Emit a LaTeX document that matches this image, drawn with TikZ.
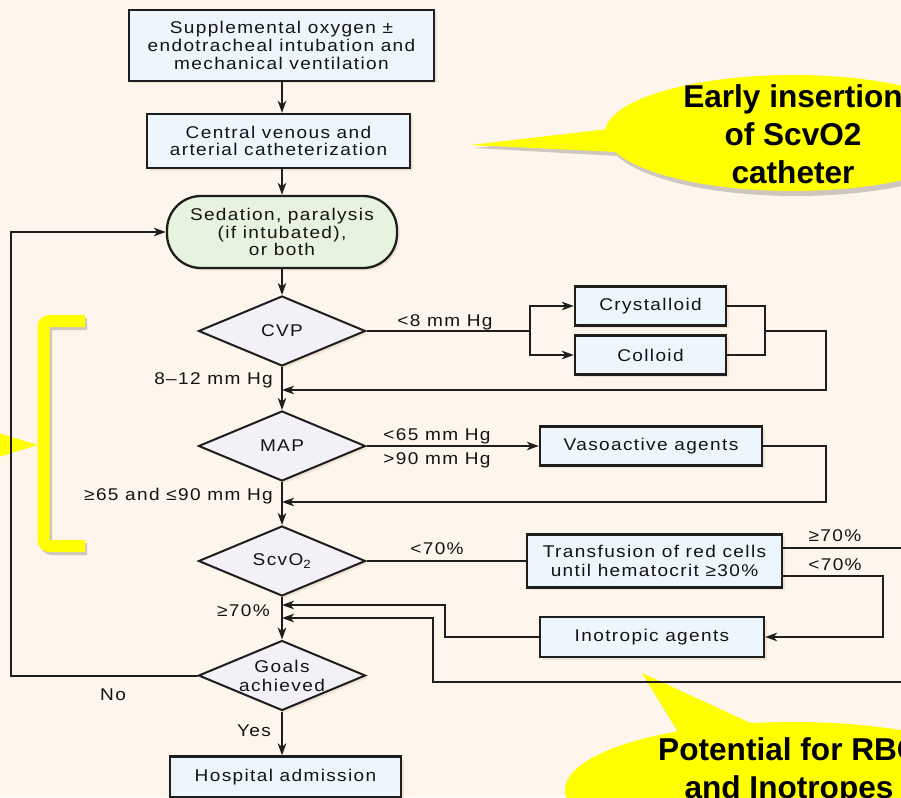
\documentclass[tikz,border=0pt]{standalone}
\usepackage{fontspec}
\newfontfamily\flowfam{Liberation Sans}[LetterSpace=8,FakeStretch=1.12]
\newfontfamily\callfam{Liberation Sans}
\usetikzlibrary{shapes.geometric,arrows.meta,shadows}
\definecolor{bg}{RGB}{254,245,236}
\definecolor{boxfill}{RGB}{237,245,253}
\definecolor{diafill}{RGB}{243,240,247}
\definecolor{ovalfill}{RGB}{232,243,223}
\definecolor{ln}{RGB}{30,30,30}
\definecolor{txt}{RGB}{20,20,20}
\definecolor{shadowc}{RGB}{240,226,212}
\definecolor{yel}{RGB}{255,255,0}
\definecolor{yshadow}{RGB}{205,199,191}
\newcommand\flowfont{\flowfam\fontsize{17}{17.8}\selectfont}
\newcommand\callfont{\callfam\bfseries\fontsize{31.6}{38}\selectfont}
\begin{document}
\begin{tikzpicture}[x=1pt,y=-1pt,
  flow/.style={font=\flowfont, text=txt},
  shad/.style={drop shadow={shadow xshift=2.5pt,shadow yshift=-2.5pt,fill=shadowc,opacity=1}},
  box/.style={flow, rectangle, draw=ln, line width=2.3pt, fill=boxfill, inner sep=0pt, align=center, shad},
  ovalbox/.style={flow, rectangle, rounded corners=34pt, draw=ln, line width=2.3pt, fill=ovalfill, inner sep=0pt, align=center, shad},
  dia/.style={flow, diamond, aspect=2.4, draw=ln, line width=2pt, fill=diafill, inner xsep=-6pt, inner ysep=-5pt, minimum width=167pt, minimum height=70pt, align=center, shad},
  conn/.style={draw=ln, line width=2pt},
  arr/.style={conn, -{Stealth[length=12pt,width=8.5pt,inset=3.5pt]}},
  lab/.style={flow, inner sep=0pt},
  calltext/.style={font=\callfont, text=black, align=center, inner sep=0pt}]
\useasboundingbox (0,0) rectangle (901,797);
\clip (0,0) rectangle (901,797);
\fill[bg] (0,0) rectangle (901,797);

% ---- yellow overlays (shadows first) ----
\fill[yshadow] (796,138) ellipse [x radius=188, y radius=58];
\fill[yshadow] (612,134) -- (474,148) -- (618,156) -- cycle;
\fill[yel] (793,133) ellipse [x radius=188, y radius=58];
\fill[yel] (608,129) -- (470,145) -- (616,152) -- cycle;

\fill[yshadow] (796,795) ellipse [x radius=228, y radius=68];
\fill[yshadow] (645,678) -- (760,731) -- (683,740) -- cycle;
\fill[yel] (793,790) ellipse [x radius=228, y radius=68];
\fill[yel] (642,673) -- (757,726) -- (680,735) -- cycle;

\fill[yel] (-5,432) -- (38,445) -- (-5,458) -- cycle;
\draw[yshadow, line width=12pt, rounded corners=6pt] (87,324) -- (46,324) -- (46,549) -- (87,549);
\draw[yel, line width=12pt, rounded corners=6pt] (85,321) -- (43.5,321) -- (43.5,546) -- (85,546);

\node[calltext] (c1) at (793,134) {Early insertion\\of ScvO2\\catheter};
\node[calltext] (c2) at (789,771) {Potential for RBC\\and Inotropes};

% ---- flowchart nodes ----
\node[box, minimum width=305pt, minimum height=71pt] (b1) at (281.5,45.5)
  {Supplemental oxygen \textpm\\endotracheal intubation and\\mechanical ventilation};
\node[box, minimum width=263pt, minimum height=54pt] (b2) at (278.5,141)
  {Central venous and\\arterial catheterization};
\node[ovalbox, minimum width=230pt, minimum height=72pt] (oval) at (282,232)
  {Sedation, paralysis\\(if intubated),\\or both};
\node[dia] (cvp) at (282,331) {CVP};
\node[dia] (mapd) at (282,446) {MAP};
\node[dia] (scv) at (282,561) {ScvO\textsubscript{2}};
\node[dia, font=\flowfam\fontsize{17}{19}\selectfont] (goals) at (282,675.5) {Goals\\achieved};
\node[box, minimum width=151pt, minimum height=39pt] (cry) at (650.5,306) {Crystalloid};
\node[box, minimum width=151pt, minimum height=39pt] (col) at (650.5,355) {Colloid};
\node[box, minimum width=222pt, minimum height=39pt] (vaso) at (651,446) {Vasoactive agents};
\node[box, minimum width=255pt, minimum height=53pt, font=\flowfam\fontsize{17}{19}\selectfont] (trans) at (654.5,561)
  {Transfusion of red cells\\until hematocrit ≥30\%};
\node[box, minimum width=224pt, minimum height=40pt] (ino) at (652,637) {Inotropic agents};
\node[box, minimum width=231pt, minimum height=41pt] (hosp) at (285.5,777) {Hospital admission};

% ---- labels ----
\node[lab] (l1) at (445,322) {<8 mm Hg};
\node[lab, anchor=east] (l2) at (273,380) {8–12 mm Hg};
\node[lab] (l3) at (437,436) {<65 mm Hg};
\node[lab] (l4) at (437,460) {>90 mm Hg};
\node[lab, anchor=east] (l5) at (273,496) {≥65 and ≤90 mm Hg};
\node[lab] (l6) at (437,549) {<70\%};
\node[lab, anchor=east] (l7) at (270,611) {≥70\%};
\node[lab] (l8) at (835,536) {≥70\%};
\node[lab] (l9) at (835,565) {<70\%};
\node[lab] (l10) at (113,695) {No};
\node[lab] (l11) at (254,731) {Yes};

% ---- coordinates ----
\coordinate (L) at (11,0);
\coordinate (j1) at (530,331);
\coordinate (j2) at (765,331);
\coordinate (r1) at (826,390);
\coordinate (r2) at (826,502);
\coordinate (o1) at (920,548);
\coordinate (o2) at (920,682);
\coordinate (k1) at (433,682);
\coordinate (k2) at (433,618);
\coordinate (p1) at (883,576);
\coordinate (q1) at (445,605);

% ---- connectors ----
\draw[arr] (b1.south -| cvp) -- (b2.north -| cvp);
\draw[arr] (b2.south -| cvp) -- (oval.north -| cvp);
\draw[arr] (oval.south -| cvp) -- (cvp.north);
\draw[arr] (cvp.south) -- (mapd.north);
\draw[arr] (mapd.south) -- (scv.north);
\draw[arr] (scv.south) -- (goals.north);
\draw[arr] (goals.south) -- (goals.south |- hosp.north);
\draw[arr] (goals.west) -- (goals.west -| L) -- (oval.west -| L) -- (oval.west);

\draw[conn] (cvp.east) -- (j1);
\draw[arr] (j1) |- (cry.west);
\draw[arr] (j1) |- (col.west);
\draw[conn] (cry.east) -| (j2) |- (col.east);
\draw[arr] (j2) -| (r1) -- (r1 -| cvp);

\draw[arr] (mapd.east) -- (mapd.east -| vaso.west);
\draw[arr] (vaso.east) -| (r2) -- (r2 -| cvp);

\draw[conn] (scv.east) -- (scv.east -| trans.west);
\draw[arr] (trans.east |- o1) -- (o1) -- (o2) -- (k1) -- (k2) -- (k2 -| scv);
\draw[arr] (trans.east |- p1) -- (p1) |- (ino.east);
\draw[arr] (ino.west) -| (q1) -- (q1 -| scv);
\end{tikzpicture}
\end{document}
